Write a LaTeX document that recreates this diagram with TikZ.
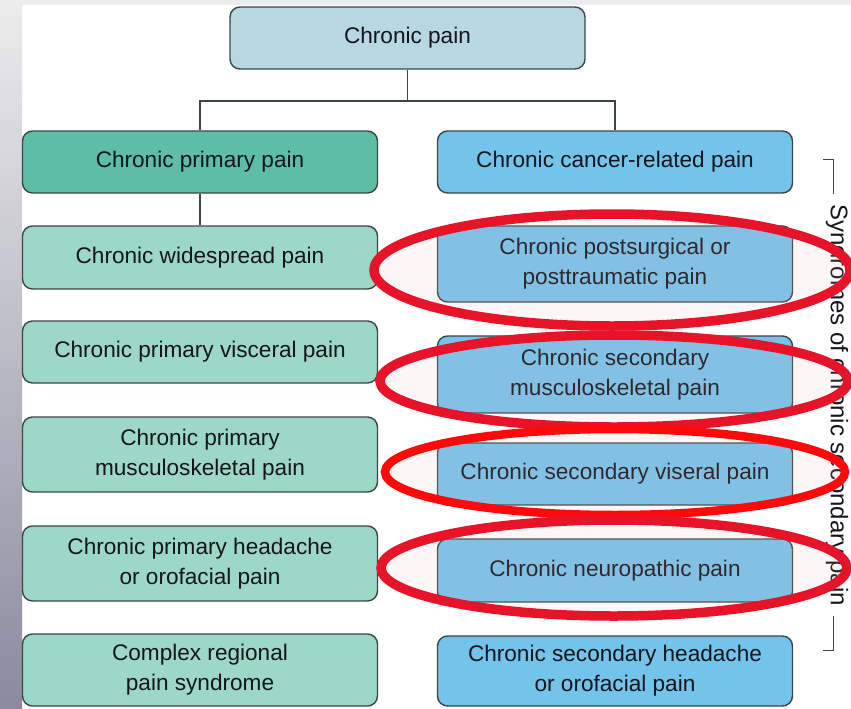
\documentclass[tikz,border=0pt]{standalone}
\usepackage{fontspec}
\setmainfont{Liberation Sans}
\usetikzlibrary{positioning,calc}
\definecolor{topfill}{HTML}{B7D7E3}
\definecolor{darkteal}{HTML}{5DBEA5}
\definecolor{lightteal}{HTML}{9DD7C5}
\definecolor{skyblue}{HTML}{73C3EA}
\definecolor{edgecol}{HTML}{3C4646}
\definecolor{ringred}{HTML}{E61329}
\definecolor{ringbright}{HTML}{FF0A0A}
\definecolor{ringfill}{HTML}{F4B8C0}
\definecolor{textcol}{HTML}{15151C}
\begin{document}
\begin{tikzpicture}[x=1pt,y=-1pt,
  box/.style={draw=edgecol,line width=1.4pt,rounded corners=10pt,minimum width=355pt,inner sep=0pt,align=center,text=textcol,font=\fontsize{22.6}{30}\selectfont},
  conn/.style={draw=edgecol,line width=1.2pt},
  ring/.style={draw=ringred,line width=9.5pt,fill=ringfill,fill opacity=0.12}]
\useasboundingbox (0,0) rectangle (851,709);
\fill[white] (0,0) rectangle (851,709);
\fill[gray!15] (0,0) rectangle (851,5);
\shade[top color=gray!15,bottom color={rgb,255:red,138;green,138;blue,160}] (0,0) rectangle (22,709);
% nodes
\node[box,fill=topfill,minimum height=62pt] (top) at (407.5,38) {Chronic pain};
\node[box,fill=darkteal,minimum height=62pt] (cpp) at (200,162) {Chronic primary pain};
\node[box,fill=skyblue,minimum height=62pt] (ccr) at (615,162) {Chronic cancer-related pain};
\node[box,fill=lightteal,minimum height=63pt] (l1) at (200,257.5) {Chronic widespread pain};
\node[box,fill=lightteal,minimum height=62pt] (l2) at (200,352) {Chronic primary visceral pain};
\node[box,fill=lightteal,minimum height=75pt] (l3) at (200,454.5) {Chronic primary\\musculoskeletal pain};
\node[box,fill=lightteal,minimum height=75pt] (l4) at (200,563.5) {Chronic primary headache\\or orofacial pain};
\node[box,fill=lightteal,minimum height=72pt] (l5) at (200,670) {Complex regional\\pain syndrome};
\node[box,fill=skyblue,minimum height=76pt] (r1) at (615,264) {Chronic postsurgical or\\posttraumatic pain};
\node[box,fill=skyblue,minimum height=77pt] (r2) at (615,374.5) {Chronic secondary\\musculoskeletal pain};
\node[box,fill=skyblue,minimum height=62pt] (r3) at (615,474) {Chronic secondary viseral pain};
\node[box,fill=skyblue,minimum height=63pt] (r4) at (615,570.5) {Chronic neuropathic pain};
\node[box,fill=skyblue,minimum height=70pt] (r5) at (615,671) {Chronic secondary headache\\or orofacial pain};
% connectors
\coordinate (split) at (407.5,101);
\draw[conn] (top.south) -- (split);
\draw[conn] (split) -| (cpp.north);
\draw[conn] (split) -| (ccr.north);
\draw[conn] (cpp.south) -- (l1.north);
% bracket
\node[rotate=-90,font=\fontsize{24}{28}\selectfont,text=textcol,inner sep=0pt] (lab) at (837,405) {Syndromes of chronic secondary pain};
\coordinate (bt) at (823,159);
\coordinate (bb) at (823,650);
\draw[conn,line width=1pt] (bt) -- ++(10,0) -- ++(0,35);
\draw[conn,line width=1pt] (bb) -- ++(10,0) -- ++(0,-34);
% rings
\draw[ring] (612,270) ellipse [x radius=238pt,y radius=56pt];
\draw[ring] (614,381) ellipse [x radius=234pt,y radius=46pt];
\draw[ring,draw=ringbright,line width=8.5pt] (615,472) ellipse [x radius=230pt,y radius=43pt];
\draw[ring] (614,568) ellipse [x radius=233pt,y radius=48pt];
\end{tikzpicture}
\end{document}
